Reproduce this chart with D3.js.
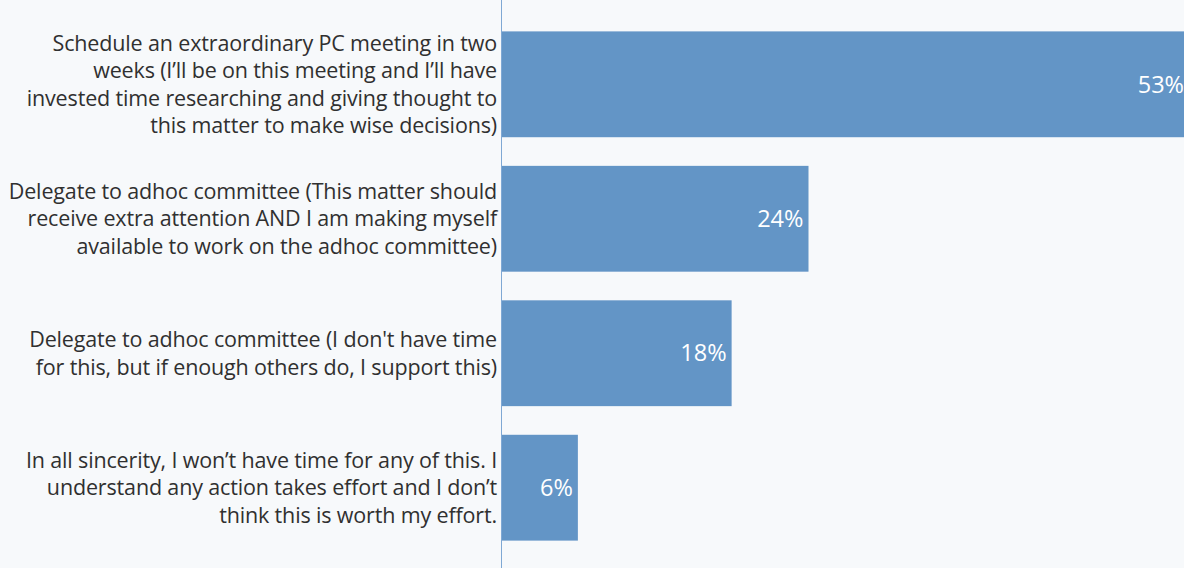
<!DOCTYPE html>
<html><head><meta charset="utf-8">
<script src="https://cdn.jsdelivr.net/npm/d3@7"></script>
<style>
html,body{margin:0;padding:0;background:#f7f9fb;}
svg{display:block;}
</style></head>
<body>
<svg id="chart" width="1184" height="568"></svg>
<script>
const categories = [
  ["Schedule an extraordinary PC meeting in two", "weeks (I\u2019ll be on this meeting and I\u2019ll have", "invested time researching and giving thought to", "this matter to make wise decisions)"],
  ["Delegate to adhoc committee (This matter should", "receive extra attention AND I am making myself", "available to work on the adhoc committee)"],
  ["Delegate to adhoc committee (I don't have time", "for this, but if enough others do, I support this)"],
  ["In all sincerity, I won\u2019t have time for any of this. I", "understand any action takes effort and I don\u2019t", "think this is worth my effort."]
];
const values = [53.7, 24, 18, 6];
const valueLabels = ["53%", "24%", "18%", "6%"];

const W = 1184, H = 568;
const svg = d3.select("#chart");
const x0 = 501;
const x = d3.scaleLinear().domain([0, 24]).range([x0, 808.5]);
const y = d3.scaleBand().domain(d3.range(values.length)).range([17, 555]).paddingInner(0.213).paddingOuter(0.107);

svg.append("rect").attr("width", W).attr("height", H).attr("fill", "#f7f9fb");

svg.selectAll("rect.bar").data(values).join("rect")
  .attr("class", "bar")
  .attr("x", x(0))
  .attr("y", (d, i) => y(i))
  .attr("width", d => x(d) - x(0))
  .attr("height", y.bandwidth())
  .attr("fill", "#6395c6");

svg.selectAll("text.val").data(values).join("text")
  .attr("class", "val")
  .attr("x", d => x(d) - 5)
  .attr("y", (d, i) => y(i) + y.bandwidth() / 2)
  .attr("dy", "0.35em")
  .attr("text-anchor", "end")
  .attr("fill", "#ffffff")
  .style("font-family", "'Open Sans', sans-serif")
  .style("font-size", "23.5px")
  .text((d, i) => valueLabels[i]);

const lh = 27.5;
const g = svg.selectAll("text.cat").data(categories).join("text")
  .attr("class", "cat")
  .attr("text-anchor", "end")
  .attr("fill", "#303030")
  .style("font-family", "'Open Sans', sans-serif")
  .style("font-size", "21.5px")
  .style("letter-spacing", "-0.15px");
g.each(function(lines, i) {
  const t = d3.select(this);
  const cy = y(i) + y.bandwidth() / 2;
  const start = cy - (lines.length - 1) * lh / 2;
  lines.forEach((ln, j) => {
    t.append("tspan").attr("x", 497).attr("y", start + j * lh).attr("dy", "0.35em").text(ln);
  });
});

svg.append("line").attr("x1", x0 + 0.5).attr("x2", x0 + 0.5).attr("y1", 0).attr("y2", H)
  .attr("stroke", "#7fa8d4").attr("stroke-width", 1);
</script>
</body></html>
